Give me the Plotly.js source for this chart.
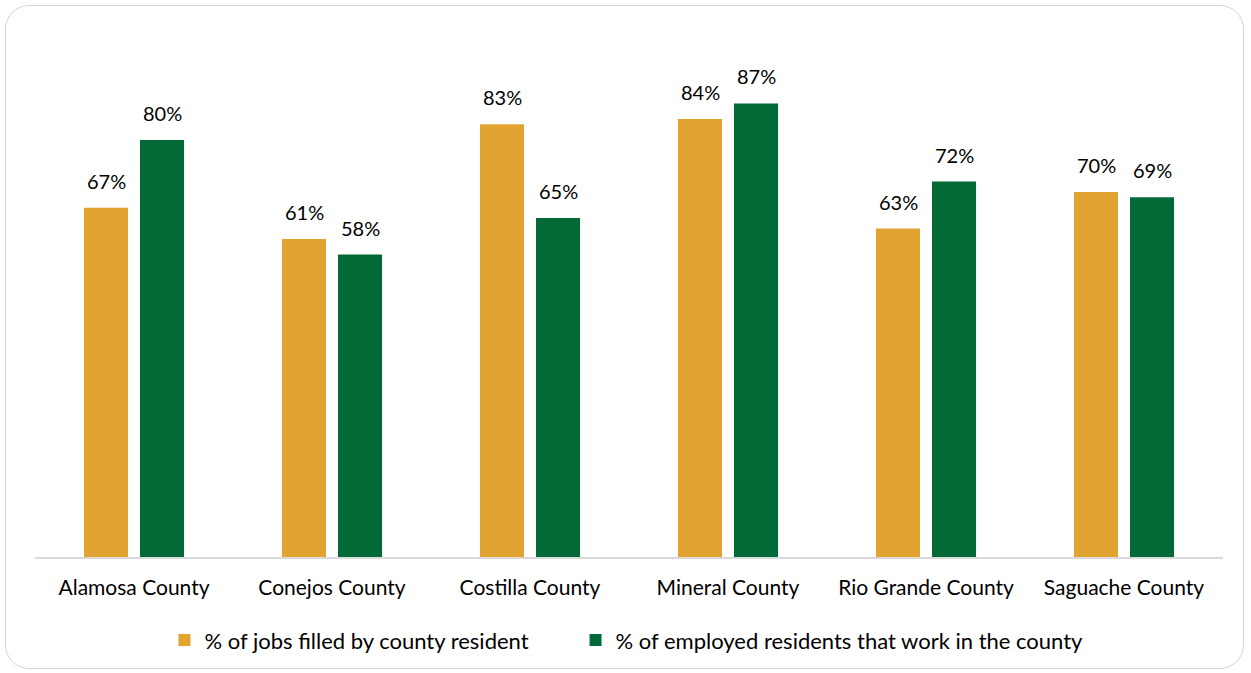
<!DOCTYPE html>
<html>
<head>
<meta charset="utf-8">
<script src="https://cdn.plot.ly/plotly-3.0.1.min.js"></script>
<style>
  html, body { margin: 0; padding: 0; background: #fff; }
  #wrap { position: relative; width: 1251px; height: 673px; }
  #chart { position: absolute; left: 0; top: 0; width: 1251px; height: 673px; }
  #frame { position: absolute; left: 5px; top: 5px; width: 1239px; height: 664px;
           border: 1.5px solid #d4d4d4; border-radius: 24px; pointer-events: none; box-sizing: border-box; }
</style>
</head>
<body>
<div id="wrap">
  <div id="chart"></div>
  <div id="frame"></div>
</div>
<script>
const categories = ["Alamosa County", "Conejos County", "Costilla County", "Mineral County", "Rio Grande County", "Saguache County"];
const seriesNames = ["% of jobs filled by county resident", "% of employed residents that work in the county"];
const jobsFilled = [67, 61, 83, 84, 63, 70];
const workInCounty = [80, 58, 65, 87, 72, 69];
const colors = ["#E1A332", "#036A37"];

const font = "Lato, 'Open Sans', sans-serif";

function makeTrace(vals, name, color, legendId) {
  return {
    type: "bar",
    x: categories,
    y: vals,
    name: name,
    legend: legendId,
    marker: { color: color },
    hoverinfo: "x+y+name"
  };
}

const data = [
  makeTrace(jobsFilled, seriesNames[0], colors[0], "legend"),
  makeTrace(workInCounty, seriesNames[1], colors[1], "legend2")
];

const annotations = [];
[[jobsFilled, -28], [workInCounty, 28]].forEach(([vals, dx]) => {
  vals.forEach((v, i) => {
    annotations.push({
      x: categories[i], y: v, xref: "x", yref: "y",
      text: v + "%", showarrow: false,
      xshift: dx, yshift: 13, yanchor: "bottom",
      font: { family: font, size: 20, color: "#000" }
    });
  });
});

const legendBase = {
  orientation: "h", xanchor: "left", y: -0.155, yanchor: "middle",
  font: { family: font, size: 22, color: "#000" },
  itemwidth: 30, bgcolor: "rgba(0,0,0,0)"
};

const layout = {
  width: 1251,
  height: 673,
  margin: { l: 35, r: 28, t: 20, b: 116 },
  paper_bgcolor: "#fff",
  plot_bgcolor: "#fff",
  barmode: "group",
  bargap: 0.434,
  bargroupgap: 0.214,
  font: { family: font, size: 20, color: "#000" },
  annotations: annotations,
  xaxis: {
    showline: true, linecolor: "#d9d9d9", linewidth: 2,
    ticks: "", showgrid: false, ticklabelstandoff: 11,
    tickfont: { family: font, size: 21, color: "#000" }
  },
  yaxis: {
    range: [0, 103], visible: false, showgrid: false, zeroline: false
  },
  showlegend: true,
  legend: Object.assign({}, legendBase, { x: 0.109 }),
  legend2: Object.assign({}, legendBase, { x: 0.455 })
};

Plotly.newPlot("chart", data, layout, { displayModeBar: false });
</script>
</body>
</html>
